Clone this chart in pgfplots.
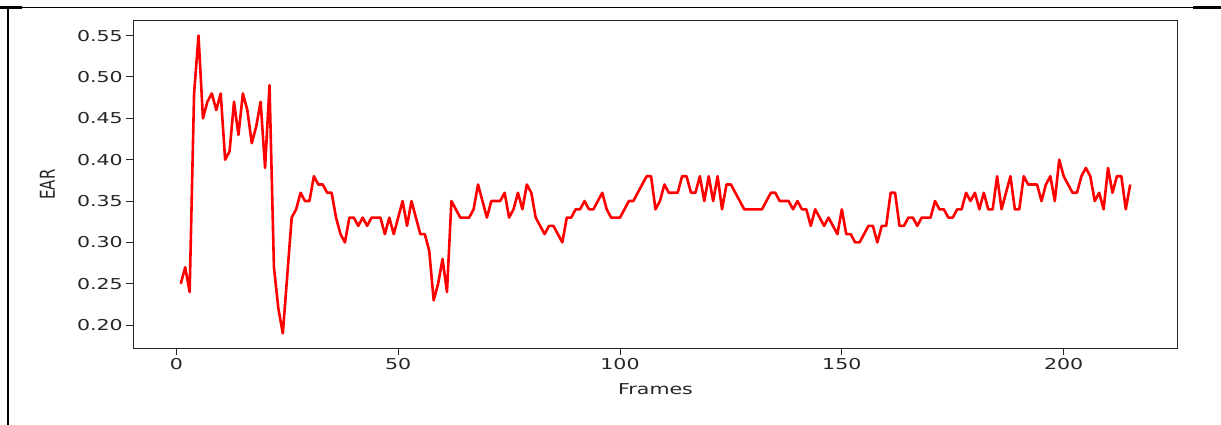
\documentclass[border=0pt]{standalone}
\usepackage{fontspec}
\setmainfont{DejaVu Sans}[FakeStretch=1.37]
\newfontfamily\plainfont{DejaVu Sans}
\usepackage{pgfplots}
\pgfplotsset{compat=1.18}
\pgfplotstableread{
f v
1 0.25
2 0.27
3 0.24
4 0.48
5 0.55
6 0.45
7 0.47
8 0.48
9 0.46
10 0.48
11 0.40
12 0.41
13 0.47
14 0.43
15 0.48
16 0.46
17 0.42
18 0.44
19 0.47
20 0.39
21 0.49
22 0.27
23 0.22
24 0.19
25 0.26
26 0.33
27 0.34
28 0.36
29 0.35
30 0.35
31 0.38
32 0.37
33 0.37
34 0.36
35 0.36
36 0.33
37 0.31
38 0.30
39 0.33
40 0.33
41 0.32
42 0.33
43 0.32
44 0.33
45 0.33
46 0.33
47 0.31
48 0.33
49 0.31
50 0.33
51 0.35
52 0.32
53 0.35
54 0.33
55 0.31
56 0.31
57 0.29
58 0.23
59 0.25
60 0.28
61 0.24
62 0.35
63 0.34
64 0.33
65 0.33
66 0.33
67 0.34
68 0.37
69 0.35
70 0.33
71 0.35
72 0.35
73 0.35
74 0.36
75 0.33
76 0.34
77 0.36
78 0.34
79 0.37
80 0.36
81 0.33
82 0.32
83 0.31
84 0.32
85 0.32
86 0.31
87 0.30
88 0.33
89 0.33
90 0.34
91 0.34
92 0.35
93 0.34
94 0.34
95 0.35
96 0.36
97 0.34
98 0.33
99 0.33
100 0.33
101 0.34
102 0.35
103 0.35
104 0.36
105 0.37
106 0.38
107 0.38
108 0.34
109 0.35
110 0.37
111 0.36
112 0.36
113 0.36
114 0.38
115 0.38
116 0.36
117 0.36
118 0.38
119 0.35
120 0.38
121 0.35
122 0.38
123 0.34
124 0.37
125 0.37
126 0.36
127 0.35
128 0.34
129 0.34
130 0.34
131 0.34
132 0.34
133 0.35
134 0.36
135 0.36
136 0.35
137 0.35
138 0.35
139 0.34
140 0.35
141 0.34
142 0.34
143 0.32
144 0.34
145 0.33
146 0.32
147 0.33
148 0.32
149 0.31
150 0.34
151 0.31
152 0.31
153 0.30
154 0.30
155 0.31
156 0.32
157 0.32
158 0.30
159 0.32
160 0.32
161 0.36
162 0.36
163 0.32
164 0.32
165 0.33
166 0.33
167 0.32
168 0.33
169 0.33
170 0.33
171 0.35
172 0.34
173 0.34
174 0.33
175 0.33
176 0.34
177 0.34
178 0.36
179 0.35
180 0.36
181 0.34
182 0.36
183 0.34
184 0.34
185 0.38
186 0.34
187 0.36
188 0.38
189 0.34
190 0.34
191 0.38
192 0.37
193 0.37
194 0.37
195 0.35
196 0.37
197 0.38
198 0.35
199 0.40
200 0.38
201 0.37
202 0.36
203 0.36
204 0.38
205 0.39
206 0.38
207 0.35
208 0.36
209 0.34
210 0.39
211 0.36
212 0.38
213 0.38
214 0.34
215 0.37
}\eardata
\begin{document}
\begin{tikzpicture}[x=1pt,y=1pt]
\useasboundingbox (0,0) rectangle (1221,425);
\draw[line width=1.3pt] (0,417.7) -- (1221,417.7);
\draw[line width=2.6pt] (0,417.7) -- (22,417.7);
\draw[line width=2.6pt] (1193,417.7) -- (1221,417.7);
\draw[line width=1.8pt] (8.3,0) -- (8.3,418.5);
\begin{axis}[
  at={(133.3pt,76.7pt)}, anchor=south west,
  scale only axis, width=1044.4pt, height=327.6pt,
  xmin=-9.7, xmax=225.7, ymin=0.172, ymax=0.568,
  xtick={0,50,100,150,200},
  ytick={0.20,0.25,0.30,0.35,0.40,0.45,0.50,0.55},
  tick align=outside, tick pos=left, major tick length=7pt,
  every tick/.style={black!85, line width=1pt},
  axis line style={black!85, line width=1.1pt},
  /pgf/number format/assume math mode=true,
  tick label style={font=\fontsize{15}{18}\selectfont, text=black!85},
  yticklabel style={/pgf/number format/.cd, fixed, fixed zerofill, precision=2},
  xlabel={Frames},
  ylabel={\scalebox{1}[1.37]{\plainfont\fontsize{15}{18}\selectfont EAR}},
  xlabel style={font=\fontsize{15}{18}\selectfont, text=black!85,
    at={(axis description cs:0.5,-0.124)}, anchor=center},
  ylabel style={text=black!85, at={(axis description cs:-0.0822,0.5)}, anchor=center},
  clip=true,
]
\addplot[color=red, line width=2.6pt, line join=round] table[x=f, y=v] {\eardata};
\end{axis}
\end{tikzpicture}
\end{document}
